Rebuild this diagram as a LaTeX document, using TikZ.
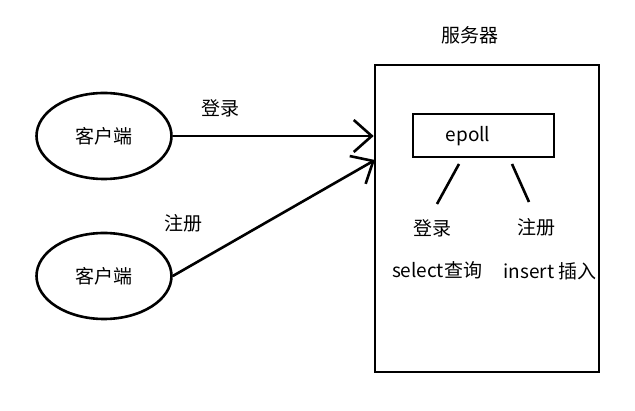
\documentclass[tikz,border=0pt]{standalone}
\usepackage{fontspec}
\newfontfamily\cjk{Noto Sans CJK SC}
\usetikzlibrary{shapes.geometric,arrows.meta}
\begin{document}
\begin{tikzpicture}[x=1pt,y=-1pt,line width=2.6pt,
  every node/.style={font=\cjk\fontsize{19}{21}\selectfont},
  client/.style={draw,ellipse,minimum width=135pt,minimum height=86pt},
  barb/.style={-{Straight Barb[length=18pt,width=32pt,line width=2.6pt]}}]
  \useasboundingbox (0,0) rectangle (635,411);
  % Server
  \node[draw,minimum width=224pt,minimum height=307pt,inner sep=0pt] (server) at (487,218.5) {};
  \node (servertitle) at (470,35) {服务器};
  \node[draw,minimum width=141pt,minimum height=43pt,inner sep=0pt] (epoll) at (483.5,135.5) {};
  \node (epolltext) at (468,136) {epoll};
  % Clients
  \node[client] (client1) at (104,136) {客户端};
  \node[client] (client2) at (104,276) {客户端};
  \coordinate (in2) at (375,160);
  \draw[barb] (client1.east) -- (client1.east -| server.west);
  \draw[barb] (client2.east) -- (in2);
  \node (login) at (220,108) {登录};
  \node (register) at (183,223) {注册};
  % Branches of epoll
  \coordinate (b1s) at (459,164);
  \coordinate (b1e) at (437,204);
  \coordinate (b2s) at (512,164);
  \coordinate (b2e) at (529,202);
  \draw (b1s) -- (b1e);
  \draw (b2s) -- (b2e);
  \node (loginop) at (432,228) {登录};
  \node (registerop) at (536,227) {注册};
  \node (select) at (437,270) {select查询};
  \node (insert) at (550,271) {insert 插入};
\end{tikzpicture}
\end{document}
